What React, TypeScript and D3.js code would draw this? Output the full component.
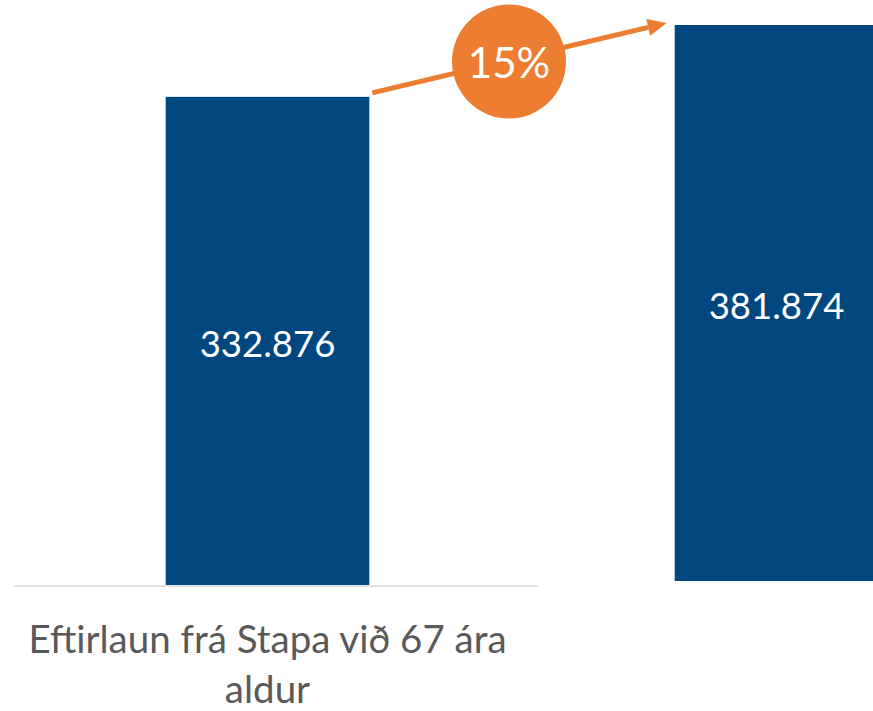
import React from "react";
import * as d3 from "d3";

const categories = ["Eftirlaun frá Stapa við 67 ára aldur", "Síðari"];
const categoryLines = [["Eftirlaun frá Stapa við 67 ára", "aldur"], []];
const values = [332876, 381874];

const W = 873;
const H = 711;
const BAR = "#00467F";
const ORANGE = "#ED7D31";
const FONT = "Lato, 'Open Sans', sans-serif";

const locale = d3.formatLocale({ decimal: ",", thousands: ".", grouping: [3], currency: ["", " kr."] });
const fmt = locale.format(",d");

export default function App() {
  const x = d3.scaleBand<string>().domain(categories).range([13, 1031]).paddingInner(0.6).paddingOuter(0.3);
  const y = d3.scaleLinear().domain([0, d3.max(values) as number]).range([585, 25]);
  const baseShift = [0, -4];
  const growth = values[1] / values[0] - 1;
  const growthLabel = d3.format(".0%")(growth);

  const x0 = (x(categories[0]) as number) + x.bandwidth();
  const x1 = x(categories[1]) as number;
  const ax0 = x0 + 3;
  const ay0 = y(values[0]) - 4;
  const ax1 = x1 - 8;
  const ay1 = y(values[1]) - 2;
  const ang = Math.atan2(ay1 - ay0, ax1 - ax0);
  const headLen = 19;
  const headW = 8.5;
  const bx = ax1 - headLen * Math.cos(ang);
  const by = ay1 - headLen * Math.sin(ang);
  const px = -Math.sin(ang) * headW;
  const py = Math.cos(ang) * headW;
  const cx = 509;
  const cy = 61.5;

  return (
    <svg width={W} height={H} style={{ position: "absolute", left: 0, top: 0, background: "#fff" }}>
      <line x1={14} x2={538} y1={586} y2={586} stroke="#D9D9D9" strokeWidth={1.5} />
      {categories.map((c, i) => {
        const bx0 = x(c) as number;
        const top = y(values[i]);
        const bottom = y(0) + baseShift[i];
        return (
          <g key={c}>
            <rect x={bx0} y={top} width={x.bandwidth()} height={bottom - top} fill={BAR} />
            <text
              x={bx0 + x.bandwidth() / 2}
              y={(top + bottom) / 2 + 16}
              textAnchor="middle"
              fill="#fff"
              fontFamily={FONT}
              fontSize={36.5}
            >
              {fmt(values[i])}
            </text>
            {categoryLines[i].map((ln, j) => (
              <text
                key={j}
                x={bx0 + x.bandwidth() / 2}
                y={653 + j * 50}
                textAnchor="middle"
                fill="#595959"
                fontFamily={FONT}
                fontSize={38.5}
              >
                {ln}
              </text>
            ))}
          </g>
        );
      })}
      <line x1={ax0} y1={ay0} x2={bx} y2={by} stroke={ORANGE} strokeWidth={5} />
      <path d={`M${ax1},${ay1}L${bx + px},${by + py}L${bx - px},${by - py}Z`} fill={ORANGE} />
      <circle cx={cx} cy={cy} r={57} fill={ORANGE} />
      <text x={cx} y={78} textAnchor="middle" fill="#fff" fontFamily={FONT} fontSize={42}>
        {growthLabel}
      </text>
    </svg>
  );
}
